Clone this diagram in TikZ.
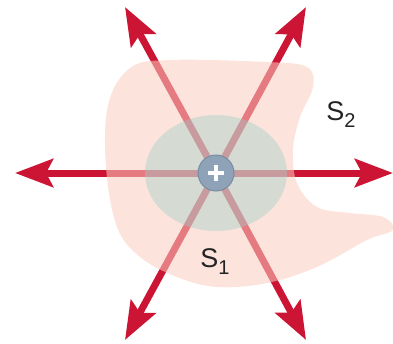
\documentclass[tikz,border=0pt]{standalone}
\usepackage{fontspec}
\setmainfont{Liberation Sans}
\usetikzlibrary{arrows.meta}
\definecolor{fieldred}{RGB}{204,20,52}
\definecolor{blobpink}{RGB}{250,206,191}
\definecolor{ellgreen}{RGB}{160,205,200}
\definecolor{chargeblue}{RGB}{143,163,184}
\definecolor{chargeedge}{RGB}{120,140,162}
\definecolor{labelgray}{RGB}{35,35,35}
\tikzset{
  fieldline/.style={draw=fieldred, line width=7pt,
    -{Stealth[length=38pt,width=28pt,inset=7pt]}},
  surflabel/.style={text=labelgray, font=\fontsize{27}{30}\selectfont, inner sep=0pt}
}
\newcommand{\subtwo}[1]{\raisebox{-0.5ex}{\fontsize{20}{22}\selectfont #1}}
\begin{document}
\begin{tikzpicture}[x=1pt,y=-1pt]
\path[use as bounding box] (0,0) rectangle (393,343);
\coordinate (c) at (216,173);
\coordinate (tL) at (15,173);
\coordinate (tR) at (393,173);
\coordinate (tUL) at (125,7);
\coordinate (tUR) at (306,7);
\coordinate (tLL) at (125,340);
\coordinate (tLR) at (306,340);
\foreach \t in {tL,tR,tUL,tUR,tLL,tLR}
  \draw[fieldline] (c) -- (\t);
% Gaussian surface S2
\fill[blobpink, opacity=0.55] plot[smooth cycle, tension=0.6] coordinates {
 (130,68) (170,60) (267,62) (307,67) (313,87) (300,117) (293,150) (297,183)
 (317,207) (350,213) (383,217) (393,230) (367,240) (317,267) (267,283)
 (217,287) (177,277) (140,257) (117,227) (106,167) (108,105)};
% Gaussian surface S1
\fill[ellgreen, opacity=0.42] (c) ellipse[x radius=71, y radius=58];
% charge
\node[circle, minimum size=36pt, inner sep=0pt, fill=chargeblue, draw=chargeedge, line width=1pt] (q) at (c) {};
\draw[white, line width=3.2pt] ([xshift=-8pt]q.center) -- ([xshift=8pt]q.center)
  ([yshift=-8pt]q.center) -- ([yshift=8pt]q.center);
\node[surflabel] (s2) at (341,115) {S\subtwo{2}};
\node[surflabel] (s1) at (215,262) {S\subtwo{1}};
\end{tikzpicture}
\end{document}
